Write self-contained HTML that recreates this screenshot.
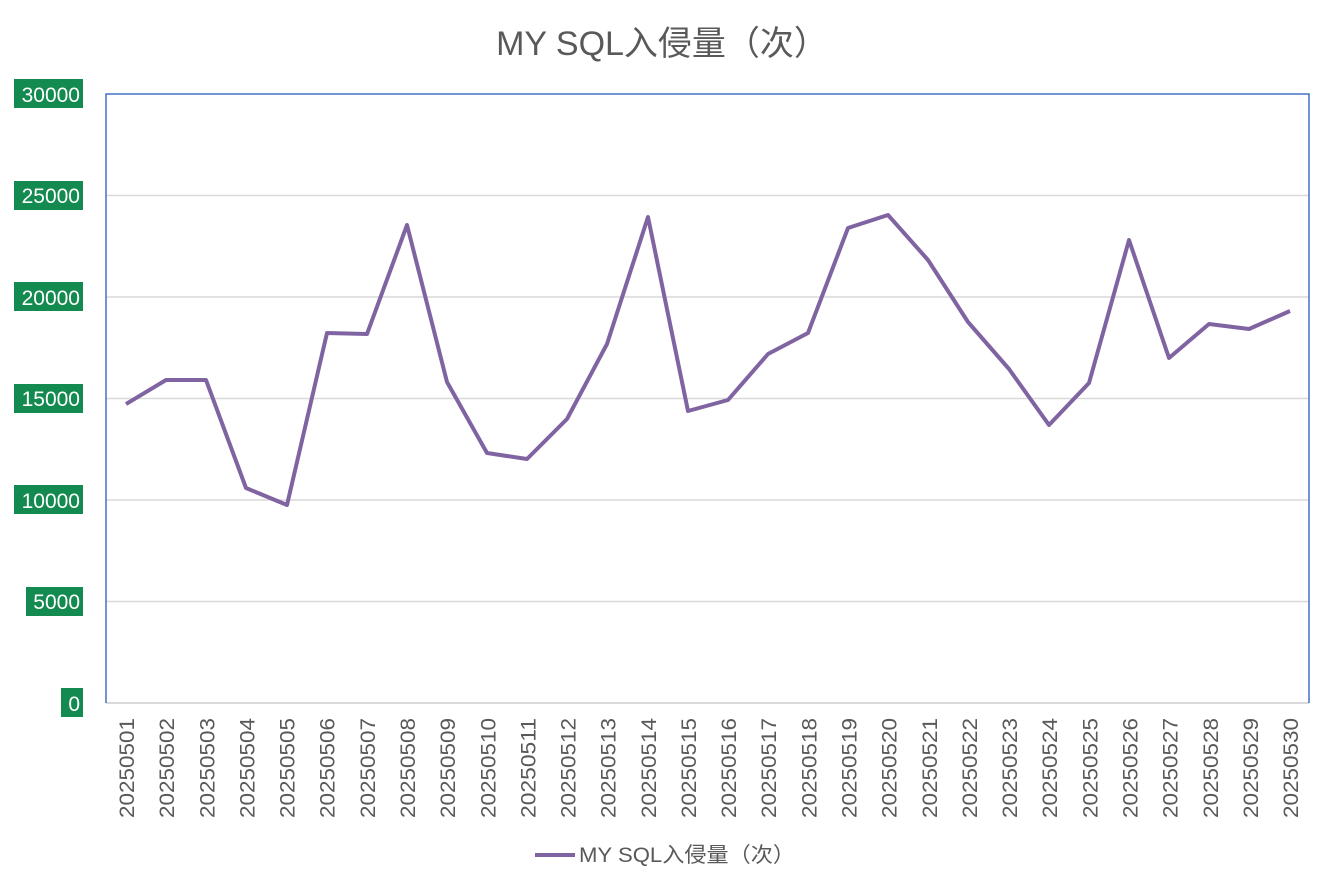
<!DOCTYPE html>
<html><head><meta charset="utf-8"><style>
body{margin:0;background:#fff}
svg text{font-family:"Liberation Sans","Noto Sans CJK SC",sans-serif}
</style></head><body>
<svg width="1334" height="889" xmlns="http://www.w3.org/2000/svg">
<rect width="1334" height="889" fill="#fff"/>
<text x="662" y="55" font-size="34" fill="#595959" text-anchor="middle">MY SQL入侵量（次）</text>
<g stroke="#d9d9d9" stroke-width="1.5">
<line x1="106" y1="195.5" x2="1309" y2="195.5"/>
<line x1="106" y1="297" x2="1309" y2="297"/>
<line x1="106" y1="398.5" x2="1309" y2="398.5"/>
<line x1="106" y1="500" x2="1309" y2="500"/>
<line x1="106" y1="601.5" x2="1309" y2="601.5"/>
<line x1="106" y1="703" x2="1309" y2="703" stroke-width="2"/>
</g>
<polyline fill="none" stroke="#4472c4" stroke-width="1.5" points="106,703 106,94 1309,94 1309,703"/>
<g font-size="21" fill="#fff" text-anchor="end">
<rect x="14" y="79" width="69" height="29" fill="#138a4f"/><text x="80" y="102">30000</text>
<rect x="14" y="181" width="69" height="29" fill="#138a4f"/><text x="80" y="203">25000</text>
<rect x="14" y="282" width="69" height="29" fill="#138a4f"/><text x="80" y="305">20000</text>
<rect x="14" y="384" width="69" height="29" fill="#138a4f"/><text x="80" y="406">15000</text>
<rect x="14" y="485" width="69" height="29" fill="#138a4f"/><text x="80" y="508">10000</text>
<rect x="26" y="587" width="57" height="29" fill="#138a4f"/><text x="80" y="609">5000</text>
<rect x="61" y="688" width="22" height="29" fill="#138a4f"/><text x="80" y="711">0</text>
</g>
<polyline fill="none" stroke="#8064a2" stroke-width="4" stroke-linejoin="round" points="126,404 166,380 206,380 246,488 287,505 327,333 367,334 407,225 447,382 487,453 527,459 567,419 607,344 648,217 688,411 728,400 768,354 808,333 848,228 888,215 928,260 968,322 1009,369 1049,425 1089,383 1129,240 1169,358 1209,324 1249,329 1290,311"/>
<g font-size="21" fill="#595959" id="xl"></g>
<line x1="535" y1="855" x2="575" y2="855" stroke="#8064a2" stroke-width="4"/>
<text x="579" y="862" font-size="21" fill="#595959" textLength="216" lengthAdjust="spacingAndGlyphs">MY SQL入侵量（次）</text>
</svg>
<script>
var g=document.getElementById('xl'),s='';
for(var i=0;i<30;i++){var x=126+i*40.14+8,d=i+1;var l='202505'+(d<10?'0':'')+d;
s+='<text transform="translate('+x+',718) rotate(-90)" text-anchor="end" textLength="100" lengthAdjust="spacingAndGlyphs">'+l+'</text>';}
g.innerHTML=s;
</script>
</body></html>
